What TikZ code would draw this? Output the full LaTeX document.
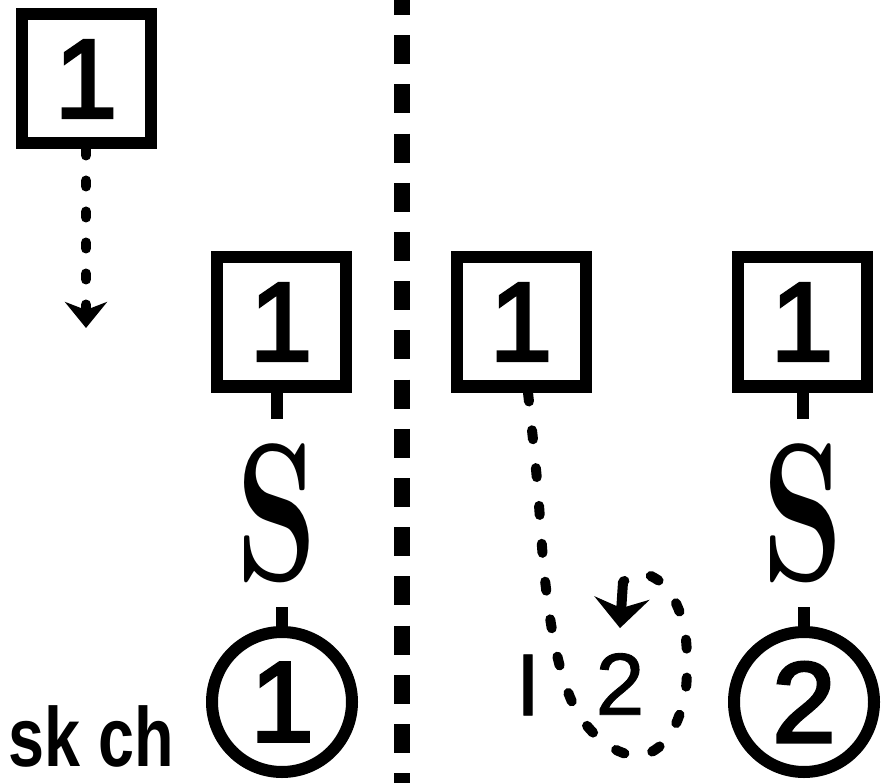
\documentclass[tikz,border=0pt]{standalone}
\usepackage{fontspec}
\usepackage{graphicx}
\usetikzlibrary{arrows.meta}
\newfontfamily\digitfont{Liberation Sans}[FakeBold=3]
\newfontfamily\smallfont{Liberation Sans}[FakeBold=1]
\newfontfamily\tagfont{Liberation Sans}

\begin{document}
\begin{tikzpicture}[x=1pt, y=-1pt,
    box/.style={draw, line width=12pt, minimum size=129pt, inner sep=0pt, font=\digitfont\fontsize{112}{112}\selectfont},
    ring/.style={draw, circle, line width=12pt, minimum size=140pt, inner sep=0pt, font=\digitfont\fontsize{114}{114}\selectfont},
    squig/.style={inner sep=0pt, minimum height=188pt, font=\bfseries\fontsize{196}{196}\selectfont},
    small/.style={inner sep=0pt, font=\smallfont\fontsize{88}{88}\selectfont},
    stem/.style={line width=12pt},
    dotty/.style={line width=10pt, line cap=round, dash pattern=on 6pt off 25pt, -{Stealth[length=26pt, width=42pt, inset=8pt]}},
    loopdash/.style={line width=10pt, line cap=round, dash pattern=on 9pt off 29pt},
    tipline/.style={line width=10pt, -{Stealth[length=30pt, width=55pt, inset=10pt]}}]
    \useasboundingbox (0, 0) rectangle (894, 783);

    \draw[line width=16pt, dash pattern=on 29pt off 20.2pt] (402, -14) -- (402, 783);

    \node[box] (b1) at (86, 79) {1};
    \node[box] (b2) at (281, 322) {1};
    \node[box] (b3) at (521, 322) {1};
    \node[box] (b4) at (802, 322) {1};

    \node[squig] (s1) at (277, 513) {\scalebox{0.66}[1]{S}};
    \node[squig] (s2) at (803, 513) {\scalebox{0.66}[1]{S}};

    \node[ring] (c1) at (282, 702) {1};
    \node[ring] (c2) at (804, 702) {2};

    \node[small] (bar) at (528, 685) {I};
    \node[small] (n2) at (620, 684) {2};

    \node[anchor=base west, inner sep=0pt, font=\tagfont\bfseries\fontsize{84}{84}\selectfont] (tag) at (8, 766) {\scalebox{0.77}[1]{sk ch}};

    \coordinate (drop) at (86, 328);
    \draw[dotty] (b1.south) -- (drop);

    \draw[stem] (b2.south -| s1.north) -- (s1.north);
    \draw[stem] (c1.north) -- (c1.north |- s1.south);
    \draw[stem] (b4.south -| s2.north) -- (s2.north);
    \draw[stem] (c2.north) -- (c2.north |- s2.south);

    \coordinate (turn) at (623, 582);
    \draw[loopdash] plot[smooth, tension=0.55] coordinates {([xshift=7pt]b3.south) (537, 480) (545, 580) (557, 655) (576, 710) (606, 744) (640, 756) (668, 738) (684, 700) (687, 660) (683, 622) (667, 588) (642, 573) (turn)};
    \draw[tipline] (turn) -- ([yshift=25pt]n2.north);
\end{tikzpicture}
\end{document}
